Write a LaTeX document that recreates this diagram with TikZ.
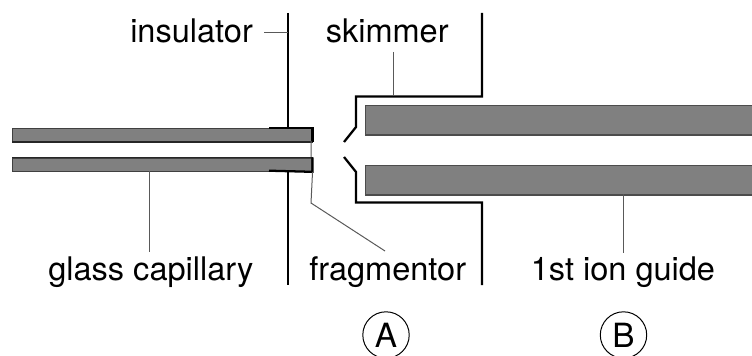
\documentclass[tikz,border=0pt]{standalone}
\usepackage{fontspec}
\setmainfont{TeX Gyre Heros}
\tikzset{
  wall/.style={draw=black,line width=1.7pt,line join=miter},
  inner wall/.style={draw=black!85,line width=1.1pt},
  leader/.style={draw=black!65,line width=0.75pt},
  label/.style={inner sep=0pt,anchor=base west,font=\fontsize{24.4pt}{26pt}\selectfont,text=black},
  tube/.style={fill=black!50,draw=black!75,line width=0.9pt},
  guide/.style={fill=black!50,draw=black!70,line width=1pt},
  region/.style={circle,draw=black,line width=0.75pt,minimum size=34.8pt,inner sep=0pt,font=\fontsize{25pt}{26pt}\selectfont}
}
\begin{document}
\begin{tikzpicture}[x=0.75pt,y=-0.75pt]
\useasboundingbox (0,0) rectangle (752,356);
% capillary
\node[tube,minimum width=224.5pt,minimum height=10pt,inner sep=0pt,anchor=north west] (capU) at (12,127.7) {};
\node[tube,minimum width=224.5pt,minimum height=10pt,inner sep=0pt,anchor=north west] (capL) at (12,157.3) {};
\coordinate (capUs) at (269,127.7);
\coordinate (capLs) at (269,170.7);
\draw[inner wall] (capU.south east) -- (capU.south west);
\draw[inner wall] (capL.north east) -- (capL.north west);
\draw[wall] (capUs) -- (capU.north east) -- (capU.south east);
\draw[wall] (capLs) -- (capL.south east) -- (capL.north east);
% insulator
\coordinate (insT) at (288,13);
\coordinate (insB) at (288,285);
\draw[wall] (insT) -- (288,128);
\draw[wall] (288,171) -- (insB);
% skimmer
\coordinate (skT) at (482,13);
\coordinate (skB) at (482,285);
\draw[wall] (skT) -- (482,96.5) -- (356,96.5) -- (356,127) -- (344,142);
\draw[wall] (344,157) -- (356,172) -- (356,202.5) -- (482,202.5) -- (skB);
% ion guide
\node[guide,minimum width=292pt,minimum height=22pt,inner sep=0pt,anchor=north west] (igU) at (364.5,105) {};
\node[guide,minimum width=292pt,minimum height=22pt,inner sep=0pt,anchor=north west] (igL) at (364.5,165) {};
% labels
\node[label] (insulator) at (130,43) {insulator};
\node[label] (skimmer) at (325.5,43) {skimmer};
\node[label] (glass) at (48,280) {glass capillary};
\node[label] (frag) at (309,280) {fragmentor};
\node[label] (guideL) at (530.5,280) {1st ion guide};
\node[region] (A) at (386,335) {A};
\node[region] (B) at (623.5,335) {B};
% leaders
\coordinate (l1) at (264,33);
\coordinate (l2) at (288,33);
\draw[leader] (l1) -- (l2);
\coordinate (l3) at (393,52);
\coordinate (l4) at (393,96);
\draw[leader] (l3) -- (l4);
\coordinate (l5) at (149,171);
\coordinate (l6) at (149,252);
\draw[leader] (l5) -- (l6);
\coordinate (l7) at (623,194);
\coordinate (l8) at (623,253);
\draw[leader] (l7) -- (l8);
\coordinate (l9) at (311,141);
\coordinate (l10) at (311,203);
\coordinate (l11) at (385,251);
\draw[leader] (l9) -- (311,157) (capL.south east) -- (l10) -- (l11);
\end{tikzpicture}
\end{document}
